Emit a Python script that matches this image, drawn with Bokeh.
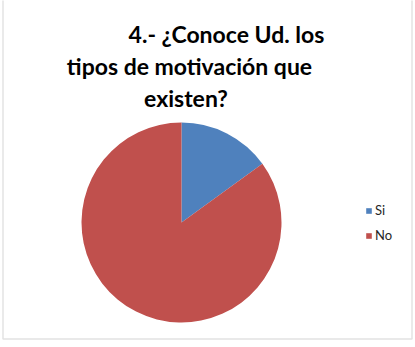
import numpy as np
from bokeh.plotting import figure
from bokeh.models import ColumnDataSource, Legend, LegendItem, BoxAnnotation
from bokeh.core.properties import value
from bokeh.embed import file_html
from bokeh.resources import INLINE

categories = ["Si", "No"]
values = [15, 85]
colors = ["#4F81BD", "#C0504D"]
title_lines = ["4.- ¿Conoce Ud. los", "tipos de motivación que", "existen?"]

vals = np.array(values, dtype=float)
frac = vals / vals.sum()
cum = np.cumsum(frac)
prev = np.concatenate([[0.0], cum[:-1]])
start = np.pi / 2 - prev * 2 * np.pi
end = np.pi / 2 - cum * 2 * np.pi

src = ColumnDataSource(dict(cat=categories, val=values, start=start, end=end, color=colors))

W, H = 415, 347
p = figure(width=W, height=H, x_range=(0, W), y_range=(0, H),
           output_backend="svg", toolbar_location=None,
           min_border=0, min_border_left=0, min_border_right=0,
           min_border_top=0, min_border_bottom=0)
p.axis.visible = False
p.grid.visible = False
p.outline_line_color = None
p.background_fill_color = "white"

r = p.wedge(x=181, y=H - 222, radius=100, start_angle="start", end_angle="end",
            direction="clock", fill_color="color", line_color=None, source=src)

# chart-area border
p.add_layout(BoxAnnotation(left=2.5, right=411.5, bottom=H - 338.5, top=H + 10,
                           fill_alpha=0, line_color="#a0a0a0", line_width=1.5))

# title
tx = [226, 189, 185.5]
ty = [H - 33, H - 65, H - 97]
p.text(x=tx, y=ty, text=title_lines, text_font=value("Lato"), text_font_style="bold",
       text_font_size="23px", text_align="center", text_baseline="alphabetic",
       text_color="#000000")

items = [LegendItem(label=c, renderers=[r], index=i) for i, c in enumerate(categories)]
legend = Legend(items=items, location=(365, 104), orientation="vertical",
                glyph_width=7, glyph_height=7, label_text_font="Lato",
                label_text_font_size="13px", label_text_color="#262626",
                label_standoff=3, spacing=9, padding=0, margin=0,
                border_line_color=None, background_fill_alpha=0)
p.add_layout(legend)

open("out.html", "w").write(file_html(p, INLINE))
